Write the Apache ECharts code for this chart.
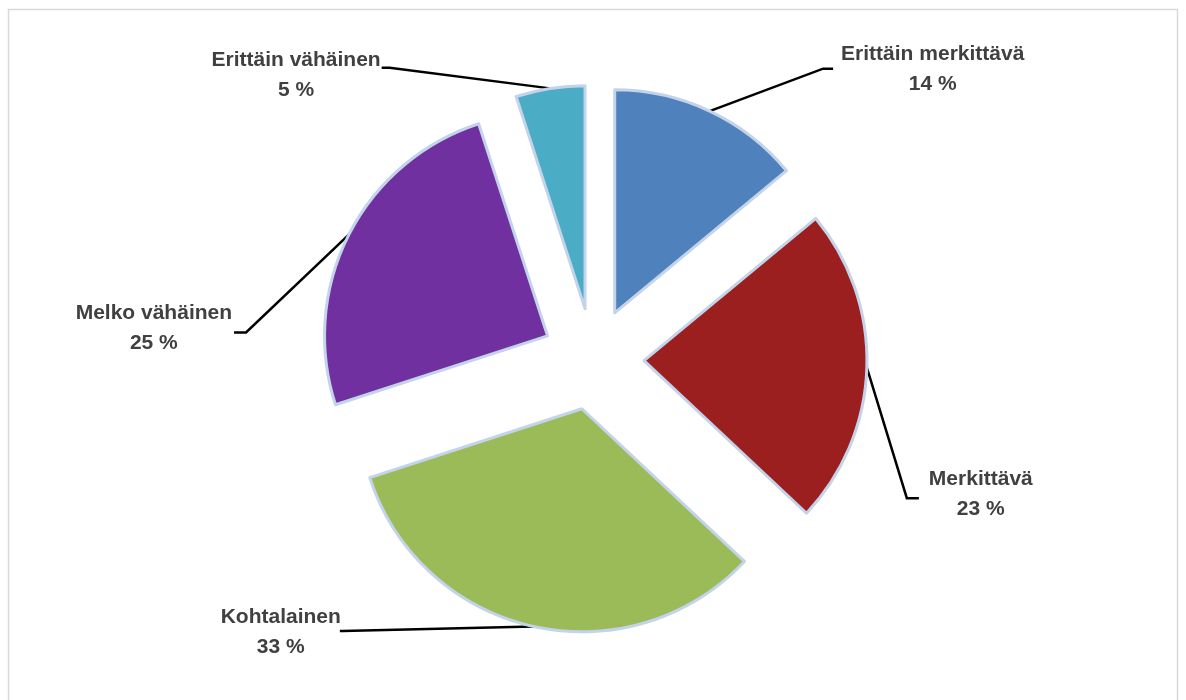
<!DOCTYPE html>
<html>
<head>
<meta charset="utf-8">
<script src="https://cdn.jsdelivr.net/npm/echarts@6/dist/echarts.min.js"></script>
<style>
html,body{margin:0;padding:0;background:#fff;}
#chart{width:1186px;height:700px;}
</style>
</head>
<body>
<div id="chart"></div>
<script>
const categories = ['Erittäin merkittävä', 'Merkittävä', 'Kohtalainen', 'Melko vähäinen', 'Erittäin vähäinen'];
const values = [14, 23, 33, 25, 5];
const colors = ['#4f81bd', '#9b1f1f', '#9bbb59', '#7030a0', '#4bacc6'];
// label line lengths (radial part, horizontal part)
const lineLen = [48, 20, 20, 20, 22];
const lineLen2 = [105, 36, 182, 93, 160];
// vertical nudge of label text via padding [top, right, bottom, left]
const labelPad = [[4, 0, 0, 0], [252, 0, 0, 0], [0, 0, 28, 0], [206, 0, 0, 0], [17, 0, 0, 0]];
// nudge of the leader line end relative to the library's default end point
const lineEndShift = [[-2, 1], [-4, 130], [-7, -15], [-4, 107], [-5, 1]];
const elbowLen = [10, 12, 3, 12, 8];

const chart = echarts.init(document.getElementById('chart'));
const data = categories.map((name, i) => ({
  name: name,
  value: values[i],
  selected: true,
  itemStyle: { color: colors[i] },
  label: { padding: labelPad[i] },
  labelLine: { length: lineLen[i], length2: lineLen2[i] }
}));

chart.setOption({
  animation: false,
  graphic: [{
    type: 'rect',
    shape: { x: 8.5, y: 9.5, width: 1169, height: 720 },
    style: { fill: 'none', stroke: '#d9d9d9', lineWidth: 1.5 },
    silent: true
  }],
  series: [{
    type: 'pie',
    center: [593, 359],
    radius: 223,
    startAngle: 90,
    clockwise: true,
    selectedMode: 'multiple',
    selectedOffset: 51,
    avoidLabelOverlap: false,
    percentPrecision: 0,
    data: data,
    itemStyle: { borderColor: '#c3d4ea', borderWidth: 3 },
    emphasis: { disabled: true },
    select: { itemStyle: { borderColor: '#c3d4ea', borderWidth: 3 } },
    label: {
      show: true,
      position: 'outside',
      formatter: '{a|{b}}\n{a|{d} %}',
      distanceToLabelLine: 6,
      rich: {
        a: {
          fontFamily: 'Liberation Sans',
          fontWeight: 'bold',
          fontSize: 21,
          color: '#404040',
          lineHeight: 30,
          align: 'center'
        }
      }
    },
    labelLine: {
      show: true,
      smooth: false,
      lineStyle: { color: '#000000', width: 2.5 }
    },
    labelLayout: function (params) {
      const i = params.dataIndex;
      const side = params.align === 'right' ? -1 : 1;
      const pts = params.labelLinePoints;
      const end = pts[pts.length - 1];
      const sh = lineEndShift[i];
      const p3 = [end[0] + sh[0], end[1] + sh[1]];
      const p2 = [p3[0] - side * elbowLen[i], p3[1]];
      return { labelLinePoints: [pts[0], p2, p3] };
    }
  }]
});
</script>
</body>
</html>
